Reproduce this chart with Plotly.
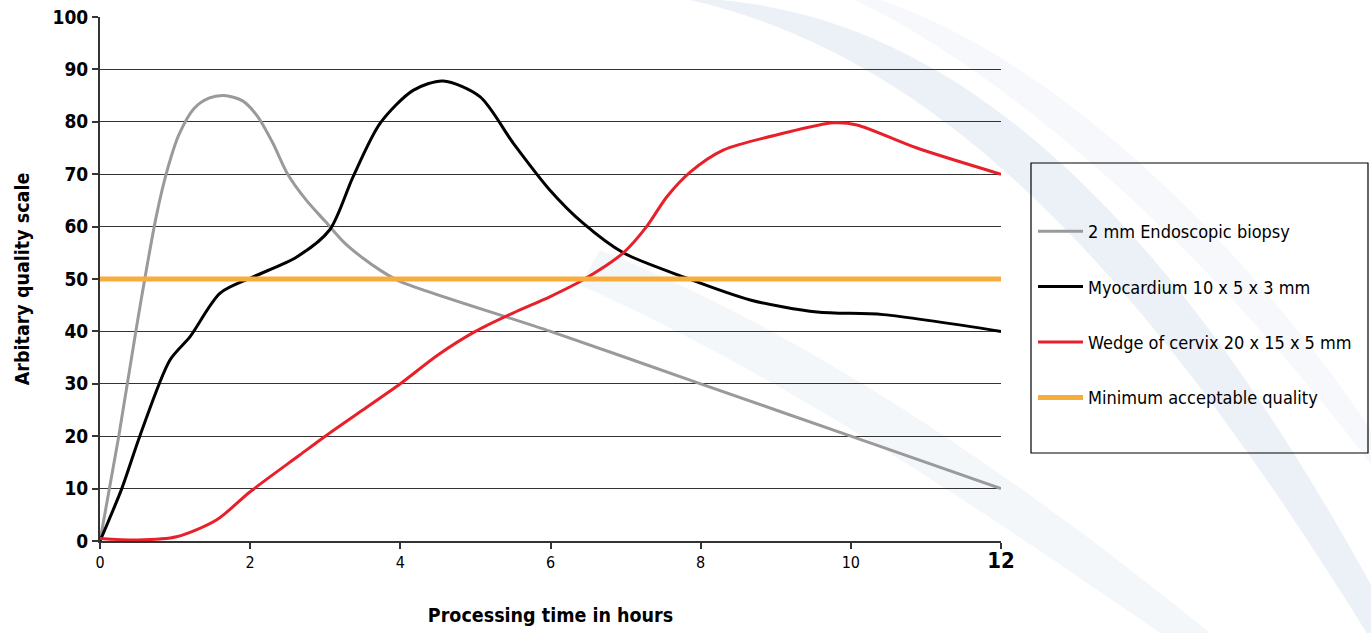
import plotly.graph_objects as go

FONT = "DejaVu Sans Condensed, Liberation Sans Narrow, Arial Narrow, sans-serif"

# hours / quality values
biopsy_x = [0, 0.25, 0.5, 0.75, 0.9, 1.05, 1.25, 1.45, 1.65, 1.9, 2.1, 2.3, 2.5, 2.75, 3.0, 3.25, 3.5, 3.75, 4.0, 6.0, 8.0, 10.0, 12.0]
biopsy_y = [0, 20, 42, 62, 71, 77.5, 82.5, 84.5, 85, 84, 81, 76, 70, 65, 61, 57, 54, 51.5, 49.5, 40, 30, 20, 10]

myo_x = [0, 0.29, 0.53, 0.93, 1.2, 1.6, 2.04, 2.62, 3.06, 3.37, 3.73, 4.17, 4.57, 5.06, 5.5, 5.99, 6.43, 6.97, 7.77, 8.66, 9.55, 10.43, 12.0]
myo_y = [0, 10, 20, 34.5, 39, 47.3, 50.4, 54.2, 59.4, 69.5, 79.7, 86, 87.8, 84.8, 76, 67, 60.7, 55, 50.4, 46, 43.7, 43.2, 40]

cervix_x = [0, 0.5, 1.02, 1.55, 2.0, 2.66, 3.0, 3.5, 4.0, 4.5, 5.0, 5.5, 5.99, 6.43, 6.97, 7.28, 7.55, 7.86, 8.3, 9.1, 9.77, 10.08, 10.88, 12.0]
cervix_y = [0.5, 0.2, 0.8, 4, 9.4, 16.4, 20, 25, 30, 35.5, 40, 43.5, 46.6, 49.8, 55, 60, 65.7, 70.4, 74.6, 77.8, 79.8, 79.4, 75, 70]

min_x = [0, 12]
min_y = [50, 50]

series = [
    ("2 mm Endoscopic biopsy", biopsy_x, biopsy_y, "#9a9a9c", 3),
    ("Myocardium 10 x 5 x 3 mm", myo_x, myo_y, "#000000", 3),
    ("Wedge of cervix 20 x 15 x 5 mm", cervix_x, cervix_y, "#e8202a", 3),
    ("Minimum acceptable quality", min_x, min_y, "#f8ac3c", 5),
]


# plot area in page pixels: left 100, right 1001, top 17, bottom 541
def px(x, y):
    return (x - 100) / 901, (541 - y) / 524


def swoosh(cmds):
    # cmds: list of (letter, [(x, y), ...]) in page pixels
    out = []
    for letter, pts in cmds:
        coords = " ".join("%.4f,%.4f" % px(a, b) for a, b in pts)
        out.append(letter + coords)
    return " ".join(out) + " Z"


fig = go.Figure()
for i, (name, xs, ys, col, w) in enumerate(series):
    fig.add_trace(go.Scatter(
        x=xs, y=ys, name=name, mode="lines", legendgroup=str(i),
        line=dict(color=col, width=w, shape="spline", smoothing=0.8),
        cliponaxis=False,
    ))

# faint decorative background swooshes
bands = [
    ([("M", [(720, 0)]), ("C", [(950, 20), (1160, 200), (1371, 585)]),
      ("L", [(1371, 640)]), ("C", [(1130, 250), (930, 55), (690, 0)])], 0.22),
    ([("M", [(600, 250)]), ("C", [(800, 330), (1010, 470), (1210, 633)]),
      ("L", [(1160, 633)]), ("C", [(960, 495), (780, 375), (580, 285)])], 0.13),
    ([("M", [(880, 0)]), ("C", [(1060, 60), (1250, 250), (1371, 430)]),
      ("L", [(1371, 465)]), ("C", [(1240, 290), (1040, 90), (855, 0)])], 0.10),
]
for cmds, op in bands:
    fig.add_shape(type="path", xref="paper", yref="paper", path=swoosh(cmds),
                  fillcolor=f"rgba(170,190,218,{op})", line=dict(width=0), layer="below")

# legend frame drawn as a shape
x0, y0 = px(1031, 453)
x1, y1 = px(1368, 163)
fig.add_shape(type="rect", xref="paper", yref="paper", x0=x0, x1=x1, y0=y0, y1=y1,
              line=dict(color="#000000", width=1.2), fillcolor="rgba(255,255,255,0)")

xt = [0, 2, 4, 6, 8, 10, 12]
xt_text = ["0", "2", "4", "6", "8", "10", "<b><span style='font-size:22px'>12</span></b>"]

lx, ly = px(1033, 213)
fig.update_layout(
    width=1371, height=633,
    margin=dict(l=100, r=370, t=17, b=92),
    paper_bgcolor="white", plot_bgcolor="rgba(0,0,0,0)",
    font=dict(family=FONT, color="#000000"),
    showlegend=True,
    legend=dict(
        x=lx, y=ly, xanchor="left", yanchor="top",
        traceorder="grouped", tracegroupgap=29,
        font=dict(family=FONT, size=18, color="#000000"),
        bgcolor="rgba(0,0,0,0)", borderwidth=0, itemwidth=45,
    ),
    xaxis=dict(
        range=[0, 12], tickvals=xt, ticktext=xt_text, automargin=False,
        showgrid=False, zeroline=False,
        showline=True, linecolor="#333333", linewidth=2,
        ticks="outside", ticklen=6, tickcolor="#333333", tickwidth=1.5,
        tickfont=dict(family=FONT, size=16),
        title=dict(text="<b>Processing time in hours</b>", font=dict(family=FONT, size=19.5), standoff=36),
    ),
    yaxis=dict(
        range=[0, 100], tickvals=list(range(0, 101, 10)), automargin=False,
        showgrid=True, gridcolor="#333333", gridwidth=1,
        zeroline=False,
        showline=True, linecolor="#333333", linewidth=2,
        ticks="outside", ticklen=6, tickcolor="#333333", tickwidth=1.5,
        tickfont=dict(family=FONT, size=19, weight="bold"),
        title=dict(text="<b>Arbitary quality scale</b>", font=dict(family=FONT, size=19.5), standoff=18),
    ),
)

fig.write_html("out.html", config={"displayModeBar": False},
               post_script="document.body.style.margin='0';")
